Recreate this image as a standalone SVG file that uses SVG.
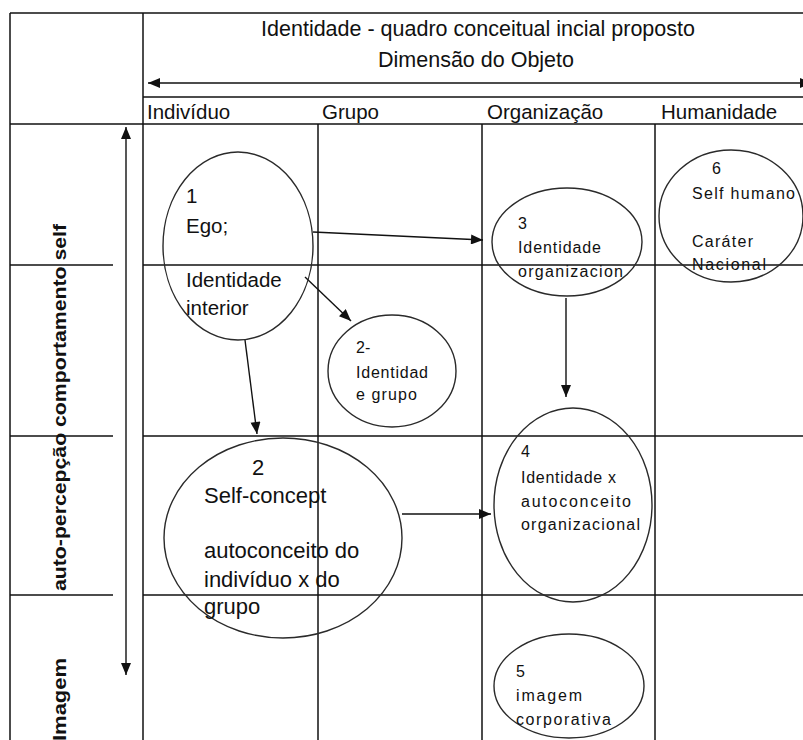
<svg xmlns="http://www.w3.org/2000/svg" width="803" height="740" viewBox="0 0 803 740">
<style>
.g{stroke:#111;stroke-width:1.5;fill:none}
.e{stroke:#2a2a2a;stroke-width:1.4;fill:none}
.c{stroke:#111;stroke-width:1.4;fill:none}
.t{font-family:"Liberation Sans",Arial,sans-serif;fill:#111}
.h{font-size:21.5px}
.col{font-size:20.5px}
.big{font-size:20.5px}
.sc{font-size:22px}
.sm{font-size:16px}
.lab{font-size:18px;font-weight:bold}
</style>
<defs>
<marker id="ah" viewBox="0 0 12 10" refX="12" refY="5" markerWidth="13" markerHeight="10" markerUnits="userSpaceOnUse" orient="auto-start-reverse">
<path d="M0,0 L12,5 L0,10 z" fill="#111"/>
</marker>
</defs>
<rect width="803" height="740" fill="#fff"/>
<g id="grid">
<line class="g" x1="10" y1="13" x2="803" y2="13"/>
<line class="g" x1="10" y1="13" x2="10" y2="740"/>
<line class="g" x1="143" y1="13" x2="143" y2="740"/>
<line class="g" x1="143" y1="97" x2="803" y2="97"/>
<line class="g" x1="10" y1="124" x2="803" y2="124"/>
<line class="g" x1="10" y1="265" x2="113" y2="265"/>
<line class="g" x1="143" y1="265" x2="803" y2="265"/>
<line class="g" x1="10" y1="436" x2="113" y2="436"/>
<line class="g" x1="143" y1="436" x2="803" y2="436"/>
<line class="g" x1="10" y1="595" x2="113" y2="595"/>
<line class="g" x1="143" y1="595" x2="803" y2="595"/>
<line class="g" x1="318" y1="124" x2="318" y2="740"/>
<line class="g" x1="482" y1="124" x2="482" y2="740"/>
<line class="g" x1="655" y1="124" x2="655" y2="740"/>
</g>
<g id="header">
<text class="t h" x="478" y="36" text-anchor="middle">Identidade - quadro conceitual incial proposto</text>
<text class="t h" x="476" y="67" text-anchor="middle">Dimensão do Objeto</text>
<text class="t col" x="147" y="119">Indivíduo</text>
<text class="t col" x="322" y="119">Grupo</text>
<text class="t col" x="487" y="119">Organização</text>
<text class="t col" x="661" y="119">Humanidade</text>
</g>
<g id="row-labels">
<text class="t lab" transform="translate(66,407.5) rotate(-90)" text-anchor="middle" textLength="367" lengthAdjust="spacingAndGlyphs">auto-percepção comportamento self</text>
<text class="t lab" transform="translate(66,741) rotate(-90)" textLength="83" lengthAdjust="spacingAndGlyphs">Imagem</text>
</g>
<g id="connectors">
<line class="c" x1="148" y1="83" x2="812" y2="83" marker-start="url(#ah)" marker-end="url(#ah)"/>
<line class="c" x1="126" y1="127" x2="126" y2="675" marker-start="url(#ah)" marker-end="url(#ah)"/>
<line class="c" x1="313" y1="232" x2="483" y2="240" marker-end="url(#ah)"/>
<line class="c" x1="305" y1="277" x2="351" y2="321" marker-end="url(#ah)"/>
<line class="c" x1="245" y1="340" x2="257" y2="434" marker-end="url(#ah)"/>
<line class="c" x1="566" y1="298" x2="566" y2="397" marker-end="url(#ah)"/>
<line class="c" x1="402" y1="514" x2="491" y2="514" marker-end="url(#ah)"/>
</g>
<g id="n1">
<ellipse class="e" cx="238" cy="246" rx="75" ry="94"/>
<text class="t big" x="186" y="203">1</text>
<text class="t big" x="186" y="233">Ego;</text>
<text class="t big" x="186" y="287">Identidade</text>
<text class="t big" x="186" y="315">interior</text>
</g>
<g id="n2g">
<ellipse class="e" cx="392" cy="371" rx="64" ry="56"/>
<text class="t sm" x="356" y="353">2-</text>
<text class="t sm" x="356" y="378" textLength="72">Identidad</text>
<text class="t sm" x="356" y="400" textLength="61">e grupo</text>
</g>
<g id="n3">
<ellipse class="e" cx="567" cy="242" rx="75" ry="54"/>
<text class="t sm" x="518" y="229">3</text>
<text class="t sm" x="518" y="253" textLength="83">Identidade</text>
<text class="t sm" x="518" y="277" textLength="105">organizacion</text>
</g>
<g id="n6">
<ellipse class="e" cx="731" cy="216" rx="72" ry="66"/>
<text class="t sm" x="712" y="174">6</text>
<text class="t sm" x="692" y="199" textLength="103">Self humano</text>
<text class="t sm" x="692" y="247" textLength="61">Caráter</text>
<text class="t sm" x="692" y="270" textLength="74">Nacional</text>
</g>
<g id="n2s">
<ellipse class="e" cx="283" cy="538" rx="119" ry="100"/>
<text class="t sc" x="252" y="475">2</text>
<text class="t sc" x="204" y="503">Self-concept</text>
<text class="t sc" x="204" y="558">autoconceito do</text>
<text class="t sc" x="204" y="587">indivíduo x do</text>
<text class="t sc" x="204" y="614">grupo</text>
</g>
<g id="n4">
<ellipse class="e" cx="573" cy="505" rx="79" ry="97"/>
<text class="t sm" x="521" y="457">4</text>
<text class="t sm" x="521" y="483" textLength="95">Identidade x</text>
<text class="t sm" x="521" y="507" textLength="110">autoconceito</text>
<text class="t sm" x="521" y="530" textLength="119">organizacional</text>
</g>
<g id="n5">
<ellipse class="e" cx="569" cy="686" rx="75" ry="52"/>
<text class="t sm" x="516" y="677">5</text>
<text class="t sm" x="516" y="701" textLength="66">imagem</text>
<text class="t sm" x="516" y="725" textLength="95">corporativa</text>
</g>
</svg>
